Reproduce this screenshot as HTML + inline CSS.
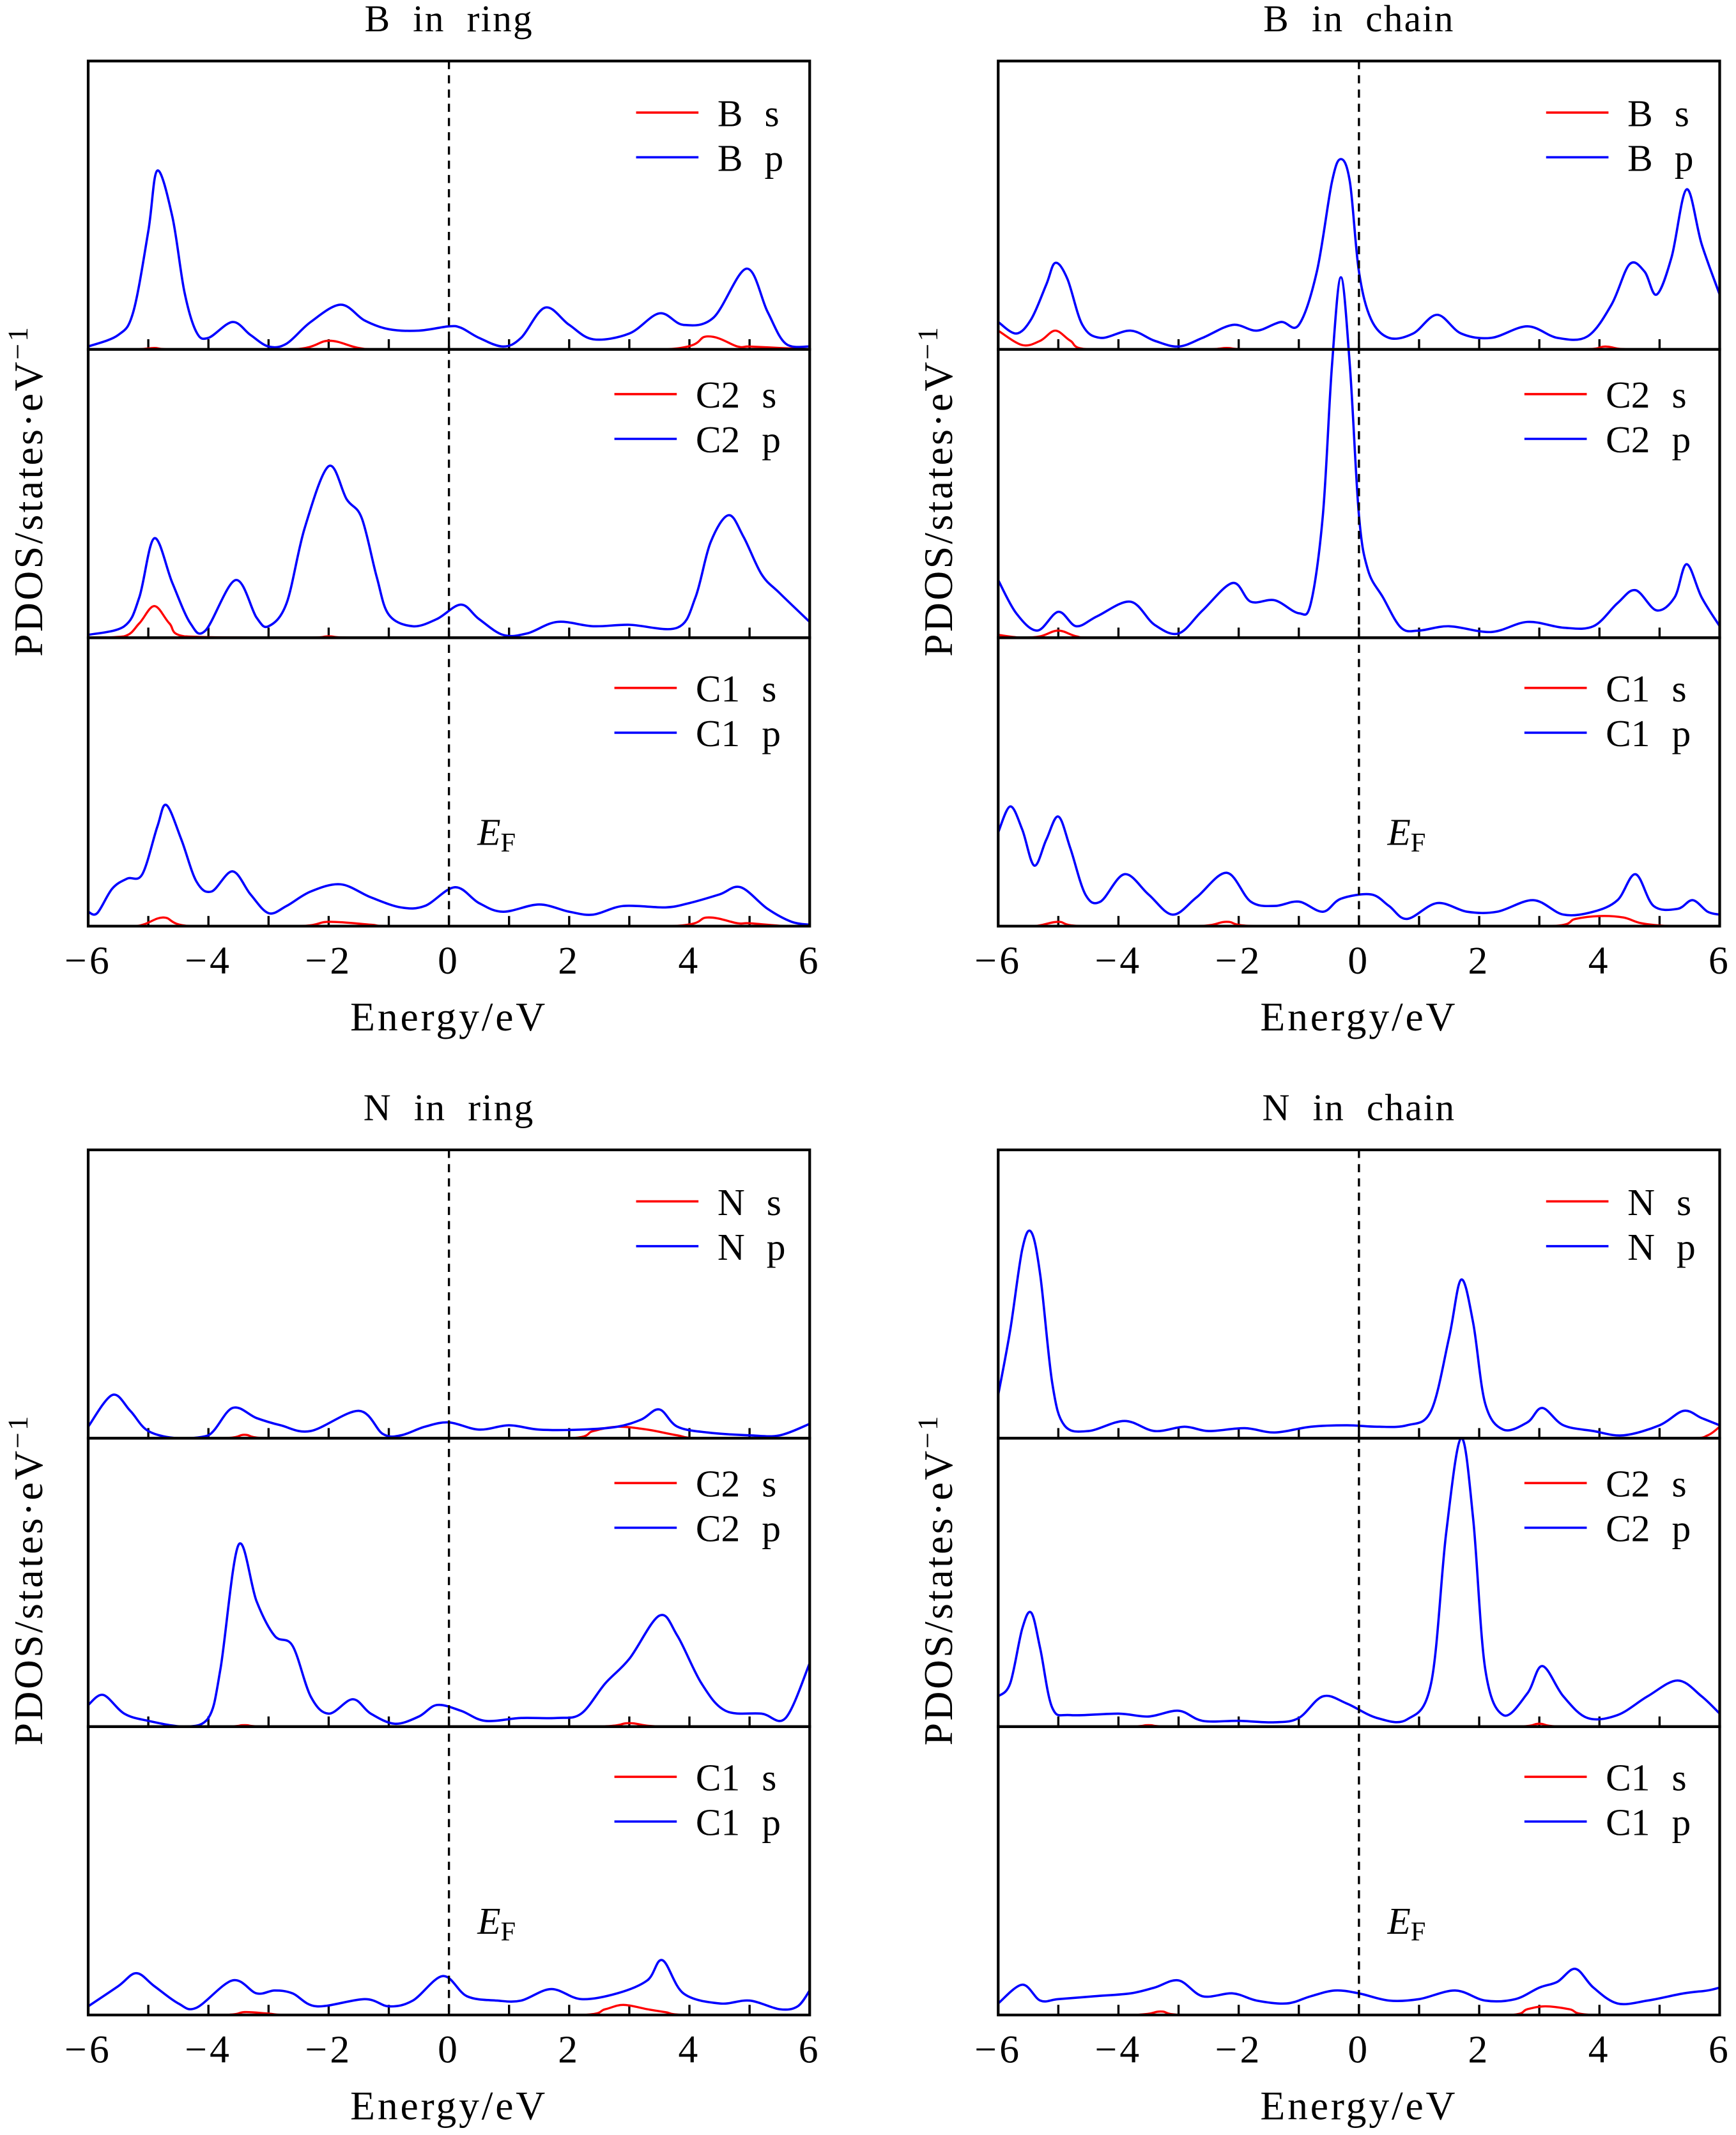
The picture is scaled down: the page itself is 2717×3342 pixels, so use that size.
<!DOCTYPE html>
<html><head><meta charset="utf-8"><style>
html,body{margin:0;padding:0;background:#fff;}
svg{display:block;}
text{font-family:"Liberation Serif",serif;fill:#000;}
</style></head><body>
<svg id="fig" xmlns="http://www.w3.org/2000/svg" width="2717" height="3342" viewBox="0 0 1280 1574.5">
<rect width="1280" height="1574.5" fill="#fff"/>
</svg>
<script>
// ---- data: energies (eV) and PDOS values (arb. units, 10 = one panel height) ----
const energyTicks=[-6,-4,-2,0,2,4,6];
const tickLabels=["\u22126","\u22124","\u22122","0","2","4","6"];
const chartTitles=["B in ring","B in chain","N in ring","N in chain"];
const legendS=[["B s","C2 s","C1 s"],["B s","C2 s","C1 s"],["N s","C2 s","C1 s"],["N s","C2 s","C1 s"]];
const legendP=[["B p","C2 p","C1 p"],["B p","C2 p","C1 p"],["N p","C2 p","C1 p"],["N p","C2 p","C1 p"]];

// B in ring
const bRingBpE=[-6,-5.5,-5.25,-5,-4.85,-4.6,-4.4,-4.2,-4,-3.6,-3.3,-3,-2.7,-2.3,-1.8,-1.4,-1,-0.5,0,0.2,0.5,0.9,1.2,1.6,2,2.4,3,3.5,3.9,4.4,4.95,5.3,5.6,6];
const bRingBpV=[0.1,0.5,1.3,4.1,6.2,4.6,2.0,0.6,0.4,0.95,0.5,0.1,0.2,0.95,1.55,1.0,0.7,0.65,0.8,0.75,0.4,0.1,0.4,1.45,0.85,0.35,0.55,1.25,0.85,1.1,2.8,1.3,0.2,0.1];
const bRingBsE=[-6,-5.2,-4.9,-4.6,-2.6,-2.0,-1.5,-1,3.6,4.3,4.8,5.0,5.5,6];
const bRingBsV=[0,0,0.05,0,0,0.3,0.05,0,0,0.45,0.1,0.1,0.05,0];
const bRingC2pE=[-6,-5.4,-5.15,-4.9,-4.6,-4.3,-4.05,-3.55,-3.2,-3,-2.7,-2.4,-2,-1.7,-1.45,-1.2,-1,-0.6,-0.2,0.2,0.5,0.9,1.3,1.8,2.4,3,3.8,4.1,4.35,4.65,4.9,5.2,5.5,6];
const bRingC2pV=[0.1,0.4,1.4,3.45,1.9,0.5,0.25,2.0,0.7,0.4,1.2,3.8,5.95,4.8,4.15,2.1,0.8,0.4,0.65,1.15,0.65,0.1,0.15,0.55,0.4,0.45,0.35,1.4,3.3,4.25,3.5,2.2,1.55,0.55];
const bRingC2sE=[-6,-5.4,-5.15,-4.9,-4.65,-4.4,-2.4,-2,-1.6,6];
const bRingC2sV=[0,0.05,0.5,1.1,0.5,0.05,0,0.05,0,0];
const bRingC1pE=[-6,-5.85,-5.6,-5.35,-5.1,-4.85,-4.7,-4.45,-4.2,-3.95,-3.6,-3.3,-3,-2.7,-2.3,-1.8,-1.3,-0.8,-0.4,0.1,0.5,0.9,1.5,2,2.4,2.9,3.6,4,4.5,4.85,5.3,5.7,6];
const bRingC1pV=[0.5,0.45,1.3,1.65,1.8,3.45,4.2,3.0,1.55,1.2,1.9,1.1,0.45,0.7,1.2,1.45,1.0,0.65,0.7,1.35,0.8,0.5,0.75,0.5,0.4,0.7,0.65,0.8,1.1,1.35,0.6,0.15,0.05];
const bRingC1sE=[-6,-5.2,-4.75,-4.3,-2.5,-2,-1.3,-1,3.7,4.3,4.8,5.0,5.6,6];
const bRingC1sV=[0,0,0.3,0,0,0.15,0.05,0,0,0.3,0.1,0.1,0,0];

// B in chain
const bChainBpE=[-6,-5.7,-5.45,-5.2,-5.05,-4.85,-4.6,-4.3,-3.8,-3.4,-3,-2.6,-2.1,-1.7,-1.3,-1,-0.7,-0.45,-0.3,-0.15,0,0.2,0.5,0.9,1.3,1.7,2.2,2.8,3.3,3.8,4.2,4.5,4.75,4.95,5.2,5.45,5.7,6];
const bChainBpV=[0.95,0.55,1.05,2.25,3.0,2.45,0.85,0.4,0.65,0.3,0.1,0.4,0.85,0.65,0.95,0.85,2.7,5.8,6.6,5.8,2.7,1.05,0.4,0.55,1.2,0.55,0.4,0.8,0.4,0.45,1.55,2.95,2.7,1.9,3.2,5.55,3.65,1.9];
const bChainBsE=[-6,-5.6,-5.3,-5.05,-4.8,-4.5,-2.6,-2.2,-1.8,3.7,4.1,4.5,6];
const bChainBsV=[0.65,0.15,0.3,0.65,0.3,0,0,0.05,0,0,0.1,0,0];
const bChainC2pE=[-6,-5.7,-5.35,-5,-4.7,-4.35,-3.8,-3.4,-3,-2.6,-2.1,-1.8,-1.4,-1,-0.8,-0.6,-0.45,-0.3,-0.15,0,0.15,0.4,0.7,1,1.5,2.2,2.8,3.4,3.9,4.3,4.6,4.95,5.25,5.45,5.7,6];
const bChainC2pV=[2.0,0.85,0.25,0.9,0.4,0.75,1.25,0.45,0.15,0.95,1.9,1.25,1.3,0.85,1.2,4.25,9.4,12.5,9.4,4.25,2.35,1.4,0.35,0.25,0.4,0.2,0.55,0.35,0.4,1.2,1.65,0.95,1.4,2.55,1.4,0.4];
const bChainC2sE=[-6,-5.6,-5.3,-5.0,-4.7,-4.4,6];
const bChainC2sV=[0.1,0,0.05,0.25,0.05,0,0];
const bChainC1pE=[-6,-5.8,-5.6,-5.4,-5.2,-5,-4.8,-4.55,-4.3,-3.9,-3.5,-3.1,-2.7,-2.2,-1.8,-1.4,-1,-0.6,-0.3,0.2,0.5,0.8,1.3,1.8,2.3,2.9,3.4,3.9,4.3,4.6,4.9,5.3,5.55,5.8,6];
const bChainC1pV=[3.25,4.15,3.35,2.1,3.0,3.8,2.7,1.1,0.85,1.8,1.1,0.4,1.0,1.85,0.85,0.7,0.85,0.5,0.95,1.1,0.7,0.25,0.8,0.5,0.5,0.9,0.4,0.5,0.9,1.8,0.7,0.6,0.9,0.5,0.4];
const bChainC1sE=[-6,-5.4,-5.0,-4.6,-2.7,-2.2,-1.7,3.2,3.6,4.0,4.4,4.7,5.2,6];
const bChainC1sV=[0,0,0.15,0,0,0.15,0,0,0.25,0.35,0.3,0.1,0,0];

// N in ring
const nRingNpE=[-6,-5.6,-5.3,-5,-4.5,-4,-3.6,-3.2,-2.8,-2.3,-1.5,-1.1,-0.8,-0.4,0,0.5,1,1.5,2.2,2.8,3.2,3.5,3.8,4.3,5,5.5,6];
const nRingNpV=[0.4,1.5,0.95,0.25,0,0.1,1.05,0.7,0.45,0.25,0.95,0.15,0.1,0.4,0.55,0.3,0.45,0.3,0.3,0.4,0.65,1.0,0.4,0.2,0.1,0.1,0.5];
const nRingNsE=[-6,-3.8,-3.4,-3.0,2.0,2.4,2.8,3.3,3.8,4.2,6];
const nRingNsV=[0,0,0.12,0,0,0.25,0.4,0.3,0.1,0,0];
const nRingC2pE=[-6,-5.75,-5.4,-5,-4.4,-4,-3.8,-3.5,-3.2,-2.9,-2.6,-2.3,-2,-1.6,-1.3,-0.9,-0.5,-0.2,0.2,0.6,1.2,1.8,2.2,2.6,3,3.5,3.8,4.2,4.6,5.2,5.6,6];
const nRingC2pV=[0.75,1.1,0.45,0.2,0,0.3,2.0,6.3,4.35,3.15,2.8,1.05,0.45,0.95,0.45,0.1,0.35,0.75,0.55,0.2,0.3,0.3,0.45,1.5,2.35,3.85,3.15,1.5,0.55,0.45,0.3,2.2];
const nRingC2sE=[-6,-3.8,-3.4,-3.0,2.4,3.0,3.6,6];
const nRingC2sV=[0,0,0.05,0,0,0.12,0,0];
const nRingC1pE=[-6,-5.5,-5.2,-4.9,-4.5,-4.2,-3.6,-3.2,-2.9,-2.6,-2.2,-1.4,-1,-0.6,-0.1,0.3,0.8,1.2,1.7,2.2,2.8,3.3,3.55,3.9,4.5,5,5.5,5.8,6];
const nRingC1pV=[0.3,1.0,1.45,1.0,0.4,0.25,1.2,0.75,0.85,0.75,0.3,0.55,0.3,0.5,1.35,0.65,0.5,0.5,0.9,0.55,0.75,1.2,1.9,0.75,0.4,0.5,0.2,0.3,0.85];
const nRingC1sE=[-6,-3.8,-3.4,-3.0,-2.6,2.2,2.6,2.9,3.3,3.6,4.0,6];
const nRingC1sV=[0,0,0.1,0.05,0,0,0.2,0.35,0.2,0.1,0,0];

// N in chain
const nChainNpE=[-6,-5.8,-5.6,-5.45,-5.3,-5.1,-4.9,-4.5,-3.9,-3.4,-2.9,-2.5,-1.9,-1.4,-0.8,-0.2,0.3,0.8,1.2,1.5,1.7,1.9,2.1,2.4,2.8,3.05,3.4,3.9,4.4,5,5.4,5.7,6];
const nChainNpV=[1.5,3.75,6.55,7.15,5.65,1.9,0.45,0.25,0.6,0.25,0.4,0.25,0.35,0.2,0.4,0.45,0.4,0.45,0.95,3.5,5.5,4.0,1.2,0.3,0.55,1.05,0.45,0.25,0.1,0.45,0.95,0.7,0.45];
const nChainNsE=[-6,5.5,5.8,6];
const nChainNsV=[0,0,0.1,0.4];
const nChainC2pE=[-6,-5.8,-5.6,-5.45,-5.3,-5.1,-4.8,-4,-3.5,-3,-2.6,-2,-1.4,-1,-0.6,-0.2,0.3,0.8,1.2,1.45,1.7,1.9,2.1,2.4,2.8,3.05,3.4,3.8,4.3,4.8,5.3,5.7,6];
const nChainC2pV=[1.05,1.5,3.4,3.95,2.7,0.65,0.4,0.45,0.35,0.55,0.2,0.2,0.15,0.3,1.05,0.8,0.3,0.25,1.5,6.7,10.0,7.2,2.0,0.4,1.15,2.1,1.05,0.3,0.4,1.05,1.6,1.05,0.45];
const nChainC2sE=[-6,-3.9,-3.5,-3.1,2.6,3.0,3.4,6];
const nChainC2sV=[0,0,0.05,0,0,0.1,0,0];
const nChainC1pE=[-6,-5.6,-5.3,-5,-4.4,-3.8,-3.4,-3,-2.6,-2.1,-1.7,-1.2,-0.8,-0.4,0,0.5,1,1.6,2.1,2.6,3,3.3,3.6,3.9,4.3,4.8,5.4,5.8,6];
const nChainC1pV=[0.4,1.05,0.5,0.55,0.65,0.75,0.95,1.2,0.65,0.75,0.5,0.4,0.65,0.85,0.75,0.5,0.55,0.85,0.5,0.55,0.95,1.15,1.6,0.95,0.4,0.5,0.75,0.85,0.95];
const nChainC1sE=[-6,-3.8,-3.3,-2.9,2.5,2.8,3.1,3.5,3.9,6];
const nChainC1sV=[0,0,0.12,0,0,0.2,0.3,0.2,0,0];

const chartSeries=[
 [[bRingBsE,bRingBsV,bRingBpE,bRingBpV],[bRingC2sE,bRingC2sV,bRingC2pE,bRingC2pV],[bRingC1sE,bRingC1sV,bRingC1pE,bRingC1pV]],
 [[bChainBsE,bChainBsV,bChainBpE,bChainBpV],[bChainC2sE,bChainC2sV,bChainC2pE,bChainC2pV],[bChainC1sE,bChainC1sV,bChainC1pE,bChainC1pV]],
 [[nRingNsE,nRingNsV,nRingNpE,nRingNpV],[nRingC2sE,nRingC2sV,nRingC2pE,nRingC2pV],[nRingC1sE,nRingC1sV,nRingC1pE,nRingC1pV]],
 [[nChainNsE,nChainNsV,nChainNpE,nChainNpV],[nChainC2sE,nChainC2sV,nChainC2pE,nChainC2pV],[nChainC1sE,nChainC1sV,nChainC1pE,nChainC1pV]]
];

// ---- layout ----
const NS="http://www.w3.org/2000/svg";
const svg=document.getElementById('fig');
const origins=[[65,45],[736,45],[65,848],[736,848]];
const W=532, H=638, PH=H/3;
function mk(tag,attrs,parent){const e=document.createElementNS(NS,tag);for(const k in attrs)e.setAttribute(k,attrs[k]);(parent||svg).appendChild(e);return e;}
function spline(pts,floorY){
  let d='M'+pts[0][0].toFixed(2)+','+pts[0][1].toFixed(2);
  const cl=(v,a,b)=>Math.max(Math.min(a,b),Math.min(Math.max(a,b),v));
  for(let i=0;i<pts.length-1;i++){
    const p0=pts[Math.max(0,i-1)],p1=pts[i],p2=pts[i+1],p3=pts[Math.min(pts.length-1,i+2)];
    let c1x=p1[0]+(p2[0]-p0[0])/6,c1y=p1[1]+(p2[1]-p0[1])/6;
    let c2x=p2[0]-(p3[0]-p1[0])/6,c2y=p2[1]-(p3[1]-p1[1])/6;
    c1x=cl(c1x,p1[0],p2[0]);c2x=cl(c2x,p1[0],p2[0]);
    c1y=Math.min(c1y,floorY);c2y=Math.min(c2y,floorY);
    d+=' C'+c1x.toFixed(2)+','+c1y.toFixed(2)+' '+c2x.toFixed(2)+','+c2y.toFixed(2)+' '+p2[0].toFixed(2)+','+p2[1].toFixed(2);
  }
  return d;
}
chartTitles.forEach((title,ci)=>{
  const [x0,y0]=origins[ci];
  const g=mk('g',{});
  
  
  const xs=e=>x0+(e+6)/12*W;
  const t=mk('text',{x:x0+W/2,y:y0-22,'text-anchor':'middle','font-size':28,'word-spacing':8,'letter-spacing':1},g);
  t.textContent=title;
  
  
  for(let p=0;p<3;p++){
    const top=y0+p*PH, bot=top+PH;
    const ys=v=>bot-v/10*PH;
    const pg=mk('g',{},g);
    
    
    for(let e=-5;e<=5;e++){
      const tk=mk('line',{x1:xs(e),x2:xs(e),y1:bot,y2:bot-7.5,stroke:'#000','stroke-width':1.6},pg);
      
      
    }
    const [sE,sV,pE,pV]=chartSeries[ci][p];
    const sp=mk('path',{d:spline(sE.map((e,i)=>[xs(e),ys(sV[i])]),bot),fill:'none',stroke:'#f00','stroke-width':1.6},pg);
    
    
    const pp=mk('path',{d:spline(pE.map((e,i)=>[xs(e),ys(pV[i])]),bot),fill:'none',stroke:'#00f','stroke-width':1.7},pg);
    
    
    const sLab=legendS[ci][p], pLab=legendP[ci][p];
    const shortL=sLab.length<=3;
    const lx1=x0+(shortL?404:388), lx2=lx1+46, tx=x0+(shortL?464:448);
    const ly=top+(p===0?38:p===1?33:37);
    const lg=mk('g',{},pg);
    
    
    const l1=mk('line',{x1:lx1,x2:lx2,y1:ly,y2:ly,stroke:'#f00','stroke-width':1.7},lg);
    
    
    const t1=mk('text',{x:tx,y:ly+10,'font-size':28,'word-spacing':9},lg);
    t1.textContent=sLab;
    
    
    const l2=mk('line',{x1:lx1,x2:lx2,y1:ly+33,y2:ly+33,stroke:'#00f','stroke-width':1.7},lg);
    
    
    const t2=mk('text',{x:tx,y:ly+43,'font-size':28,'word-spacing':9},lg);
    t2.textContent=pLab;
    
    
    const fr=mk('rect',{x:x0,y:top,width:W,height:PH,fill:'none',stroke:'#000','stroke-width':2},pg);
    
    
  }
  const dl=mk('line',{x1:xs(0),x2:xs(0),y1:y0,y2:y0+H,stroke:'#000','stroke-width':1.6,'stroke-dasharray':'6,4.5'},g);
  
  
  const ef=mk('text',{x:x0+287,y:y0+578,'font-size':28,'font-style':'italic'},g);
  ef.textContent='E';
  const sub=mk('tspan',{'font-size':20,'font-style':'normal',dy:5},ef);
  sub.textContent='F';
  
  
  energyTicks.forEach((e,i)=>{
    const tl=mk('text',{x:xs(e),y:y0+H+35,'text-anchor':'middle','font-size':29,'letter-spacing':2},g);
    tl.textContent=tickLabels[i];
    
    
  });
  const xl=mk('text',{x:x0+W/2,y:y0+H+77,'text-anchor':'middle','font-size':30,'letter-spacing':1.8},g);
  xl.textContent='Energy/eV';
  
  
  const cy=y0+H/2-2, cx=x0-34;
  const yl=mk('text',{x:cx,y:cy,'text-anchor':'middle','font-size':30,'letter-spacing':1.6,transform:'rotate(-90 '+cx+' '+cy+')'},g);
  yl.textContent='PDOS/states\u00b7eV';
  const sup=mk('tspan',{'font-size':21,dy:-11},yl);
  sup.textContent='\u22121';
  
  
});
</script>
</body></html>
